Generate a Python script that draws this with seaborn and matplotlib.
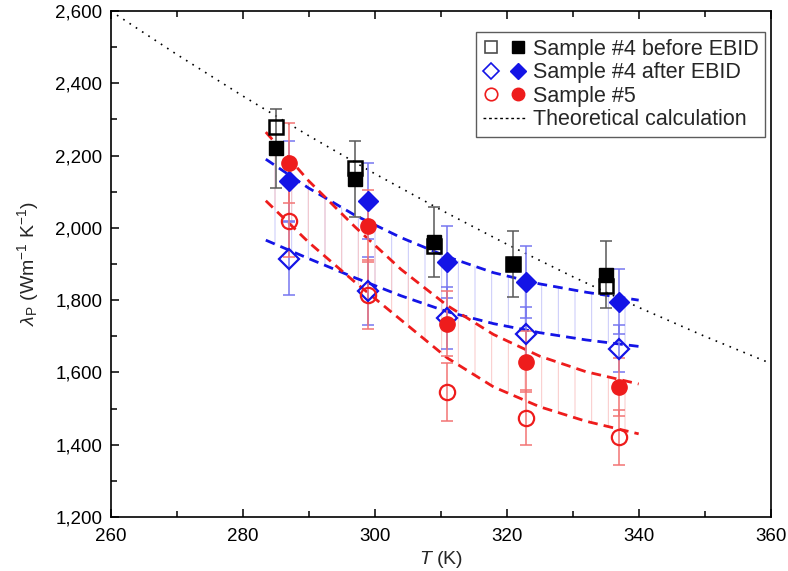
import numpy as np
import pandas as pd
import matplotlib
matplotlib.use('Agg')
from matplotlib import pyplot as plt
from matplotlib.lines import Line2D
from matplotlib.legend_handler import HandlerTuple
import seaborn as sns

# Sample #4 before EBID (black squares)
t_before = [285, 297, 309, 321, 335]
before_open = [2280, 2165, 1950, 1900, 1840]
before_fill = [2220, 2135, 1960, 1900, 1870]
before_err = [110, 105, 97, 90, 93]

# Sample #4 after EBID (blue diamonds)
t_after = [287, 299, 311, 323, 337]
after_fill = [2130, 2075, 1905, 1850, 1795]
after_open = [1915, 1825, 1750, 1705, 1665]
after_fill_err = [110, 105, 100, 100, 90]
after_open_err = [100, 95, 85, 75, 65]

# Sample #5 (red circles)
t_s5 = [287, 299, 311, 323, 337]
s5_fill = [2180, 2005, 1735, 1630, 1560]
s5_open = [2020, 1815, 1545, 1475, 1420]
s5_fill_err = [110, 100, 90, 85, 80]
s5_open_err = [100, 95, 80, 75, 75]

# fitted curves
t_fit = [283.5, 290, 297, 304, 311, 318, 325, 332, 340]
fit_blue_up = [2190, 2110, 2035, 1973, 1920, 1876, 1845, 1822, 1800]
fit_blue_lo = [1966, 1915, 1862, 1812, 1768, 1735, 1710, 1690, 1672]
fit_red_up = [2265, 2130, 2003, 1885, 1785, 1705, 1645, 1602, 1568]
fit_red_lo = [2075, 1960, 1850, 1745, 1640, 1560, 1505, 1465, 1430]

# theoretical calculation
t_theory = [260, 270, 280, 290, 300, 310, 320, 330, 340, 350, 360]
theory = [2600, 2480, 2365, 2255, 2150, 2050, 1955, 1865, 1780, 1700, 1625]

labels = ['Sample #4 before EBID', 'Sample #4 after EBID', 'Sample #5',
          'Theoretical calculation']

sns.set_style('ticks')
plt.rcParams['font.family'] = ['Liberation Sans', 'DejaVu Sans']
plt.rcParams['mathtext.fontset'] = 'custom'
plt.rcParams['mathtext.rm'] = 'Liberation Sans'
plt.rcParams['mathtext.it'] = 'Liberation Sans:italic'
plt.rcParams['hatch.linewidth'] = 0.7

BLUE = '#1414e6'
RED = '#ee1c1c'

fig, ax = plt.subplots(figsize=(7.88, 5.71), dpi=100)
fig.subplots_adjust(left=0.1405, right=0.978, bottom=0.0946, top=0.9807)

# theory dotted line
sns.lineplot(x=t_theory, y=theory, ax=ax, color='k', lw=1.2,
             linestyle=(0, (1, 3.5)), zorder=2)

# band between fits (thin hatch lines)
ax.fill_between(t_fit, fit_blue_up, fit_blue_lo, facecolor='none',
                edgecolor='#c8c8fa', hatch='|', linewidth=0, zorder=1)
ax.fill_between(t_fit, fit_red_up, fit_red_lo, facecolor='none',
                edgecolor='#f9c8c8', hatch='|', linewidth=0, zorder=1)

# fitted dashed curves
for yv, c in [(fit_blue_up, BLUE), (fit_blue_lo, BLUE),
              (fit_red_up, RED), (fit_red_lo, RED)]:
    sns.lineplot(x=t_fit, y=yv, ax=ax, color=c, lw=2,
                 linestyle=(0, (3.5, 2.2)), zorder=3)

# error bars
eb = dict(fmt='none', capsize=4.5, elinewidth=1.1, capthick=1.1, zorder=4)
ax.errorbar(t_before, before_fill, yerr=before_err, ecolor='0.35', **eb)
ax.errorbar(t_after, after_fill, yerr=after_fill_err, ecolor='#7676f0', **eb)
ax.errorbar(t_after, after_open, yerr=after_open_err, ecolor='#7676f0', **eb)
ax.errorbar(t_s5, s5_fill, yerr=s5_fill_err, ecolor='#f27474', **eb)
ax.errorbar(t_s5, s5_open, yerr=s5_open_err, ecolor='#f27474', **eb)

# markers
ax.plot(t_before, before_open, 's', ms=10, mfc='none', mec='k', mew=1.8, zorder=5)
ax.plot(t_before, before_fill, 's', ms=10, color='k', zorder=5)
ax.plot(t_after, after_open, 'D', ms=10, mfc='none', mec=BLUE, mew=1.6, zorder=5)
ax.plot(t_after, after_fill, 'D', ms=10, color=BLUE, zorder=5)
ax.plot(t_s5, s5_open, 'o', ms=11, mfc='none', mec=RED, mew=1.6, zorder=5)
ax.plot(t_s5, s5_fill, 'o', ms=11, color=RED, zorder=5)

ax.set_xlim(260, 360)
ax.set_ylim(1200, 2600)
ax.set_xticks(range(260, 361, 20))
ax.set_xticks(range(270, 360, 20), minor=True)
ax.set_yticks(range(1200, 2601, 200))
ax.set_yticks(range(1300, 2600, 200), minor=True)
ax.set_yticklabels([f'{v:,}' for v in range(1200, 2601, 200)])
ax.tick_params(which='both', direction='in', top=True, right=False,
               labelsize=13.5, width=1.1, colors='k')
ax.tick_params(which='major', length=6)
ax.tick_params(which='minor', length=4)
ax.tick_params(axis='x', which='major', pad=8)
ax.tick_params(axis='y', which='major', pad=6)
for s in ax.spines.values():
    s.set_visible(True)
    s.set_linewidth(1.2)
    s.set_color('k')

ax.set_xlabel('$T$ (K)', fontsize=14, labelpad=3)
ax.set_ylabel(r'$\lambda_{\mathrm{P}}$ (Wm$^{-1}$ K$^{-1}$)', fontsize=14, labelpad=10)

handles = [
    (Line2D([], [], ls='none', marker='s', ms=8, mfc='none', mec='0.3', mew=1.2),
     Line2D([], [], ls='none', marker='s', ms=8, color='k')),
    (Line2D([], [], ls='none', marker='D', ms=8, mfc='none', mec=BLUE, mew=1.2),
     Line2D([], [], ls='none', marker='D', ms=8, color=BLUE)),
    (Line2D([], [], ls='none', marker='o', ms=9, mfc='none', mec=RED, mew=1.2),
     Line2D([], [], ls='none', marker='o', ms=9, color=RED)),
    Line2D([], [], color='k', lw=1, ls=(0, (2, 2))),
]
leg = ax.legend(handles, labels, handler_map={tuple: HandlerTuple(ndivide=None, pad=0.5)},
                loc='upper right', bbox_to_anchor=(0.992, 0.958), borderaxespad=0,
                fontsize=15.5, handlelength=2.0, handletextpad=0.35,
                labelspacing=0.12, borderpad=0.3, fancybox=False, frameon=True)
leg.get_frame().set_edgecolor('0.2')
leg.get_frame().set_linewidth(1.0)

plt.savefig('out.png', dpi=100)
